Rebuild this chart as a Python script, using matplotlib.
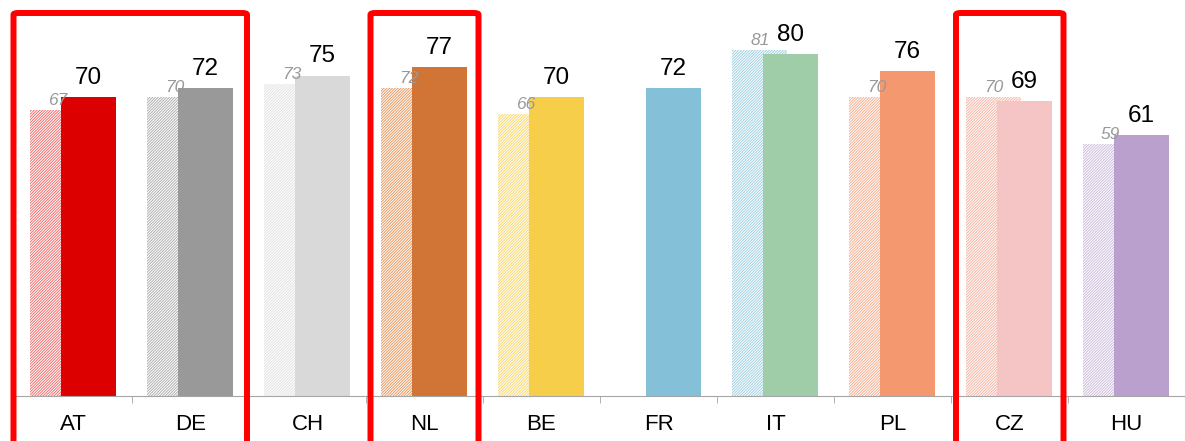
import numpy as np
import matplotlib.pyplot as plt
from matplotlib.patches import FancyBboxPatch

plt.rcParams["font.family"] = ["Liberation Sans", "DejaVu Sans"]
plt.rcParams["hatch.linewidth"] = 0.7

countries = ["AT", "DE", "CH", "NL", "BE", "FR", "IT", "PL", "CZ", "HU"]
current = [70, 72, 75, 77, 70, 72, 80, 76, 69, 61]
previous = [67, 70, 73, 72, 66, None, 81, 70, 70, 59]
bar_colors = ["#DD0000", "#999999", "#D9D9D9", "#D07535", "#F7CE4A",
              "#84C0D8", "#9ECDA8", "#F4996F", "#F4C5C4", "#B9A0CD"]
hatch_colors = ["#F07070", "#B0B0B0", "#E2E2E2", "#E89860", "#F9D870",
                "#A0D0E2", "#A0D0E2", "#F7AE90", "#F4B4A4", "#CDBCDC"]
# (first, last, left px shift, right px shift)
highlight = [(0, 1, -1.5, -2), (3, 3, 4.5, -4.5), (8, 8, 5, -4.5)]

fig = plt.figure(figsize=(11.85, 4.41), dpi=100)
ax = fig.add_axes([15 / 1185, 45 / 441, 1170 / 1185, 396 / 441])

x = np.arange(len(countries))
w = 0.47
for i in x:
    if previous[i] is not None:
        ax.bar(i - 0.135, previous[i], w, color="white", edgecolor=hatch_colors[i],
               hatch="////////////", linewidth=0, zorder=1)
        ax.annotate(str(previous[i]), (i - 0.135, previous[i]), xytext=(0, 1.5),
                    textcoords="offset points", ha="center", va="bottom",
                    fontsize=12.5, style="italic", color="#999999", zorder=4)
    ax.bar(i + 0.13, current[i], w, color=bar_colors[i], linewidth=0, zorder=2)
    ax.annotate(str(current[i]), (i + 0.13, current[i]), xytext=(0, 6),
                textcoords="offset points", ha="center", va="bottom",
                fontsize=17.5, color="black", zorder=4)

ax.set_xlim(-0.5, len(countries) - 0.5)
ax.set_ylim(0, 92.7)
ax.set_yticks([])
for s in ["left", "right", "top"]:
    ax.spines[s].set_visible(False)
ax.spines["bottom"].set_color("#A6A6A6")
ax.set_xticks(x)
ax.set_xticklabels(countries, fontsize=16)
ax.tick_params(axis="x", which="major", length=0, pad=13)
ax.set_xticks(np.arange(0.5, len(countries) - 1, 1), minor=True)
ax.tick_params(axis="x", which="minor", length=5, color="#A6A6A6")

# red highlight boxes
for a, b, dl, dr in highlight:
    x0 = ax.transData.transform((a - 0.5, 0))[0] + dl
    x1 = ax.transData.transform((b + 0.5, 0))[0] + dr
    box = FancyBboxPatch((x0 / 1185, -0.05), (x1 - x0) / 1185, 1.05 - 13 / 441,
                         boxstyle="round,pad=0,rounding_size=0.004",
                         transform=fig.transFigure, fill=False,
                         edgecolor="#FF0000", linewidth=4.3, zorder=10)
    fig.patches.append(box)

fig.savefig("out.png", dpi=100)
